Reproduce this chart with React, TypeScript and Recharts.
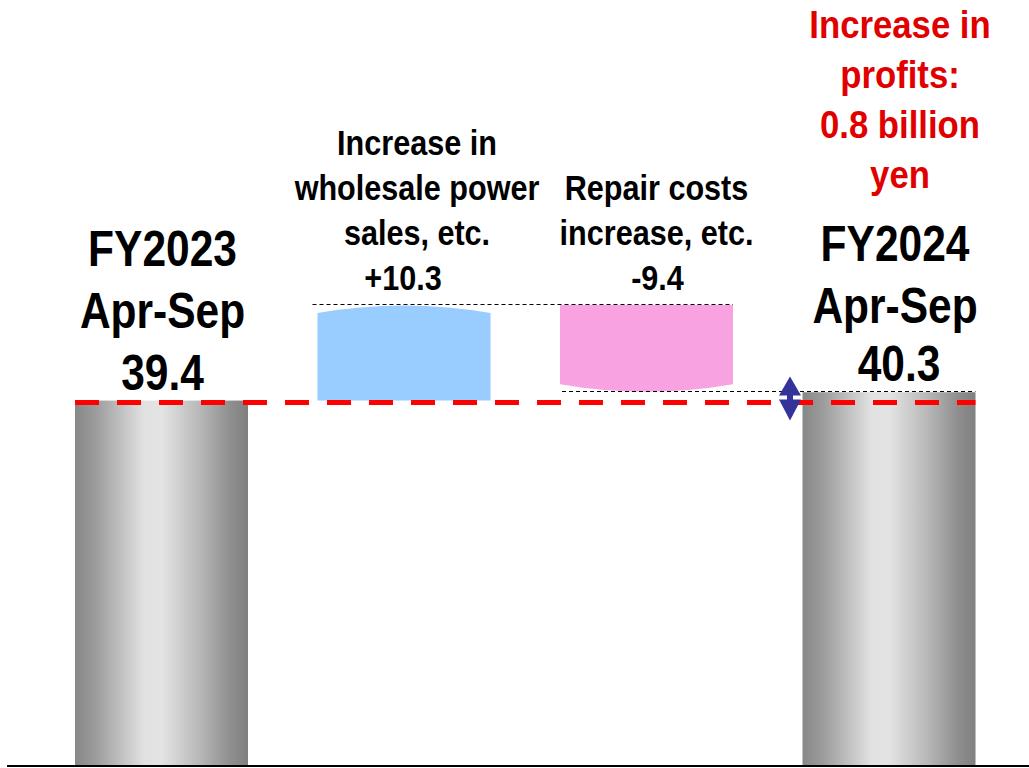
import { BarChart, Bar, XAxis, YAxis, LabelList } from 'recharts'

const categories = ['FY2023 Apr-Sep', 'Wholesale power sales', 'Repair costs', 'FY2024 Apr-Sep']
const changes = [39.4, 10.3, -9.4, 40.3]
const isTotal = [true, false, false, true]
const captions = [
  ['FY2023', 'Apr-Sep'],
  ['Increase in', 'wholesale power', 'sales, etc.'],
  ['Repair costs', 'increase, etc.'],
  ['FY2024', 'Apr-Sep'],
]
const profitNote = ['Increase in', 'profits:', '0.8 billion', 'yen']

// waterfall rows: an invisible base plus the visible span
let level = 0
const data = categories.map((name, i) => {
  const v = changes[i]
  if (isTotal[i]) {
    level = v
    return { name, base: 0, span: v, change: v, total: true }
  }
  const start = level
  level = start + v
  return { name, base: Math.min(start, level), span: Math.abs(v), change: v, total: false }
})

const W = 1029
const H = 768
const MARGIN = { top: 24, right: 0, bottom: 0, left: 7 }
const PAD = { left: 33, right: 19 }
const STEP = (W - MARGIN.left - MARGIN.right - PAD.left - PAD.right) / categories.length
const FONT = "'Liberation Sans', Arial, sans-serif"
const captionShift = [1, 13, 10, 6]
const valueShift = [1, -1, 11, 10]

const fmt = (v: number, total: boolean) => (total || v < 0 ? '' : '+') + v.toFixed(1)
const crisp = (v: number) => Math.round(v) - 0.5

// no narrow face is installed, so squeeze the regular bold one horizontally
function NarrowText({ x, y, squeeze = 0.85, children, ...rest }: any) {
  return (
    <text transform={`translate(${x} ${y}) scale(${squeeze} 1)`} x={0} y={0} {...rest}>
      {children}
    </text>
  )
}

function Connector({ x1, x2, y }: { x1: number; x2: number; y: number }) {
  return <line x1={x1} x2={x2} y1={crisp(y)} y2={crisp(y)} stroke="#000" strokeWidth={1.2} strokeDasharray="4 3" />
}

function WaterfallBar(props: any) {
  const { x, y, width: w, height: h, payload } = props
  const i = categories.indexOf(payload.name)
  if (payload.total) {
    const rect = <rect x={x} y={y} width={w} height={h} fill="url(#barGray)" />
    if (i === 0) return <g>{rect}</g>
    // last bar: connector, red reference line at the first total, and the gap arrow
    const y0 = y + h - (changes[0] * h) / payload.span
    const ax = x - 12.5
    const ac = y0 - 2
    return (
      <g>
        {rect}
        <Connector x1={x - STEP + 2} x2={x + w} y={y} />
        <line x1={x - 3 * STEP} x2={x + w} y1={y0 + 2} y2={y0 + 2} stroke="#ff0000" strokeWidth={5} strokeDasharray="24 18" />
        <polygon points={`${ax},${ac - 22} ${ax + 11},${ac - 3} ${ax - 11},${ac - 3}`} fill="#333399" />
        <polygon points={`${ax - 11},${ac + 1} ${ax + 11},${ac + 1} ${ax},${ac + 22}`} fill="#333399" />
        <rect x={ax - 3} y={ac - 8} width={6} height={16} fill="#333399" />
      </g>
    )
  }
  if (payload.change > 0) {
    return (
      <path
        d={`M${x},${y + 8} Q${x + w / 2},${y - 7} ${x + w},${y + 8} L${x + w},${y + h} L${x},${y + h} Z`}
        fill="#99ccff"
      />
    )
  }
  return (
    <g>
      <path
        d={`M${x},${y} L${x + w},${y} L${x + w},${y + h - 8} Q${x + w / 2},${y + h + 7} ${x},${y + h - 8} Z`}
        fill="#f8a2e2"
      />
      <Connector x1={x - STEP - 5} x2={x + w} y={y - 0.5} />
    </g>
  )
}

function BarCaption(props: any) {
  const { x, y, width, value } = props
  const i = categories.indexOf(value)
  const row = data[i]
  const cx = x + width / 2
  if (row.total) {
    const lines = [...captions[i], fmt(row.change, true)]
    const last = y - 11
    return (
      <g fontFamily={FONT} fontWeight={700} fontSize={50} fill="#000" textAnchor="middle">
        {lines.map((t, k) => (
          <NarrowText
            key={k}
            squeeze={0.85}
            x={cx + (k === lines.length - 1 ? valueShift[i] : captionShift[i])}
            y={last - (lines.length - 1 - k) * 62 + (i > 0 && k < lines.length - 1 ? 4 : 0)}
          >
            {t}
          </NarrowText>
        ))}
        {i === categories.length - 1 &&
          profitNote.map((t, k) => (
            <NarrowText key={`n${k}`} squeeze={0.89} x={cx + 11} y={y - 354 + k * 50} fontSize={39} fill="#e00000">
              {t}
            </NarrowText>
          ))}
      </g>
    )
  }
  const vy = y - 15
  const lines = captions[i]
  return (
    <g fontFamily={FONT} fontWeight={700} fontSize={36} fill="#000" textAnchor="middle">
      {lines.map((t, k) => (
        <NarrowText key={k} squeeze={0.85} x={cx + captionShift[i]} y={vy - (lines.length - k) * 45}>
          {t}
        </NarrowText>
      ))}
      <NarrowText squeeze={0.85} x={cx + valueShift[i]} y={vy}>
        {fmt(row.change, false)}
      </NarrowText>
    </g>
  )
}

export default function App() {
  return (
    <div style={{ position: 'absolute', left: 0, top: 0, background: '#fff' }}>
      <BarChart width={W} height={H} data={data} margin={MARGIN} barSize={173}>
        <defs>
          <linearGradient id="barGray" x1="0" y1="0" x2="1" y2="0">
            <stop offset="0%" stopColor="#878787" />
            <stop offset="12%" stopColor="#9c9c9c" />
            <stop offset="40%" stopColor="#e2e2e2" />
            <stop offset="50%" stopColor="#e4e4e4" />
            <stop offset="72%" stopColor="#b8b8b8" />
            <stop offset="90%" stopColor="#8e8e8e" />
            <stop offset="100%" stopColor="#808080" />
          </linearGradient>
        </defs>
        <XAxis
          dataKey="name"
          tick={false}
          tickLine={false}
          axisLine={{ stroke: '#000', strokeWidth: 2 }}
          height={2}
          padding={PAD}
        />
        <YAxis hide type="number" domain={[0, 80]} />
        <Bar dataKey="base" stackId="w" fill="transparent" isAnimationActive={false} />
        <Bar dataKey="span" stackId="w" shape={<WaterfallBar />} isAnimationActive={false}>
          <LabelList dataKey="name" content={<BarCaption />} />
        </Bar>
      </BarChart>
    </div>
  )
}
